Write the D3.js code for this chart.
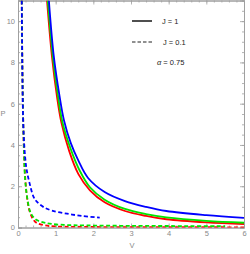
<!DOCTYPE html>
<html lang="en">
<head>
<meta charset="UTF-8">
<title>P-V curves</title>
<style>
    body { margin: 0; background: #fff; }
    text { font-family: "Liberation Sans", Arial, sans-serif; }
</style>
</head>
<body>
<svg id="chart" width="250" height="254"></svg>
<script src="https://d3js.org/d3.v7.min.js"></script>
<script>
    // J = 1 (solid)
    const redSolid = [[0.77, 11], [0.9, 8.3], [1.03, 6.4], [1.15, 5.1], [1.36, 3.7], [1.6, 2.6], [1.91, 1.8], [2.3, 1.22], [2.84, 0.8], [3.4, 0.56], [3.94, 0.4], [5, 0.25], [6, 0.17]];
    const greenSolid = [[0.79, 11], [0.93, 8.2], [1.06, 6.4], [1.18, 5.1], [1.4, 3.8], [1.64, 2.75], [1.91, 1.95], [2.3, 1.35], [2.84, 0.9], [3.4, 0.65], [3.94, 0.49], [5, 0.32], [6, 0.23]];
    const blueSolid = [[0.82, 11], [0.95, 8.3], [1.1, 6.4], [1.22, 5.2], [1.4, 4.1], [1.6, 3.25], [1.86, 2.4], [2.3, 1.72], [2.84, 1.28], [3.4, 1.0], [3.94, 0.8], [5, 0.6], [6, 0.47]];

    // J = 0.1 (dashed)
    const redDashed = [[0.1, 11], [0.125, 6.5], [0.16, 3.6], [0.2, 2.2], [0.26, 1.2], [0.32, 0.72], [0.4, 0.4], [0.5, 0.22], [0.72, 0.1], [1, 0.05], [2, 0.025], [4, 0.015], [6, 0.01]];
    const greenDashed = [[0.1, 11], [0.125, 6.5], [0.16, 3.6], [0.19, 2.3], [0.24, 1.5], [0.32, 0.78], [0.4, 0.52], [0.5, 0.36], [0.7, 0.24], [0.9, 0.17], [1.3, 0.12], [1.8, 0.1], [3, 0.08], [4.5, 0.07], [5.5, 0.07]];
    const blueDashed = [[0.1, 11], [0.14, 5], [0.19, 3.4], [0.23, 2.8], [0.3, 2.2], [0.41, 1.5], [0.5, 1.25], [0.67, 1.0], [0.9, 0.82], [1.3, 0.67], [1.7, 0.56], [2.17, 0.48]];

    const xTicks = [0, 1, 2, 3, 4, 5, 6];
    const yTicks = [0, 2, 4, 6, 8, 10];

    const svg = d3.select('#chart');
    const mLeft = 18, mRight = 244, mTop = 0.5, mBottom = 227.5;

    const x = d3.scaleLinear().domain([0, 6]).range([mLeft, mRight]);
    const y = d3.scaleLinear().domain([0, 11]).range([mBottom, mTop]);

    svg.append('clipPath').attr('id', 'clip')
        .append('rect').attr('x', mLeft).attr('y', mTop)
        .attr('width', mRight - mLeft).attr('height', mBottom - mTop);

    const frameColor = '#a0a0a0';
    const labelColor = '#8a8a8a';
    const fmt = d3.format('d');

    // frame with ticks on all four sides
    const minorX = d3.range(0, 6.01, 0.2);
    const minorY = d3.range(0, 11.01, 0.5);

    const axB = d3.axisBottom(x).tickValues(xTicks).tickSize(-4).tickPadding(3).tickFormat(fmt);
    const axT = d3.axisTop(x).tickValues(xTicks).tickSize(-4).tickFormat('');
    const axL = d3.axisLeft(y).tickValues(yTicks).tickSize(-4).tickPadding(3).tickFormat(fmt);
    const axR = d3.axisRight(y).tickValues(yTicks).tickSize(-4).tickFormat('');

    const mAxB = d3.axisBottom(x).tickValues(minorX).tickSize(-2).tickFormat('');
    const mAxT = d3.axisTop(x).tickValues(minorX).tickSize(-2).tickFormat('');
    const mAxL = d3.axisLeft(y).tickValues(minorY).tickSize(-2).tickFormat('');
    const mAxR = d3.axisRight(y).tickValues(minorY).tickSize(-2).tickFormat('');

    const axes = [
        [mAxB, `translate(0,${mBottom})`], [mAxT, `translate(0,${mTop})`],
        [mAxL, `translate(${mLeft},0)`], [mAxR, `translate(${mRight},0)`],
        [axB, `translate(0,${mBottom})`], [axT, `translate(0,${mTop})`],
        [axL, `translate(${mLeft},0)`], [axR, `translate(${mRight},0)`]
    ];
    axes.forEach(([ax, tr]) => {
        const g = svg.append('g').attr('transform', tr).call(ax);
        g.select('.domain').attr('stroke', frameColor).attr('stroke-width', 1);
        g.selectAll('.tick line').attr('stroke', frameColor).attr('stroke-width', 0.8);
        g.selectAll('text').attr('fill', labelColor).attr('font-size', 7.5);
    });

    const line = d3.line()
        .x(d => x(d[0]))
        .y(d => y(d[1]))
        .curve(d3.curveCatmullRom.alpha(0.5));

    const plot = svg.append('g').attr('clip-path', 'url(#clip)');

    const series = [
        { data: redDashed, color: '#ff0000', dash: '4,2.5' },
        { data: greenDashed, color: '#00e600', dash: '4,2.5' },
        { data: blueDashed, color: '#0000ff', dash: '4,2.5' },
        { data: redSolid, color: '#ff0000', dash: null },
        { data: greenSolid, color: '#00e600', dash: null },
        { data: blueSolid, color: '#0000ff', dash: null }
    ];

    series.forEach(s => {
        plot.append('path')
            .datum(s.data)
            .attr('fill', 'none')
            .attr('stroke', s.color)
            .attr('stroke-width', 1.8)
            .attr('stroke-dasharray', s.dash)
            .attr('d', line);
    });

    // axis labels
    svg.append('text').attr('x', 132).attr('y', 248)
        .attr('text-anchor', 'middle').attr('font-size', 7.5).attr('fill', labelColor).text('V');
    svg.append('text').attr('x', 3).attr('y', 116)
        .attr('text-anchor', 'middle').attr('font-size', 7.5).attr('fill', labelColor).text('P');

    // legend
    const legend = svg.append('g');
    legend.append('line').attr('x1', 132).attr('x2', 152).attr('y1', 21).attr('y2', 21)
        .attr('stroke', '#222').attr('stroke-width', 1.6);
    legend.append('text').attr('x', 162).attr('y', 23.5).attr('font-size', 7.5).attr('fill', '#222').text('J = 1');
    legend.append('line').attr('x1', 132).attr('x2', 152).attr('y1', 42).attr('y2', 42)
        .attr('stroke', '#222').attr('stroke-width', 1.2).attr('stroke-dasharray', '3.5,2');
    legend.append('text').attr('x', 163).attr('y', 44.5).attr('font-size', 7.5).attr('fill', '#222').text('J = 0.1');
    const alphaText = legend.append('text').attr('x', 157).attr('y', 65).attr('font-size', 7.5).attr('fill', '#222');
    alphaText.append('tspan').attr('font-style', 'italic').text('α');
    alphaText.append('tspan').text(' = 0.75');
</script>
</body>
</html>
